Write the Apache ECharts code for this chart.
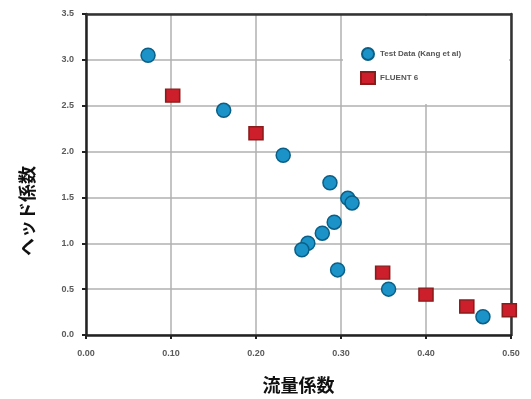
<!DOCTYPE html>
<html>
<head>
<meta charset="utf-8">
<script src="https://cdn.jsdelivr.net/npm/echarts@6/dist/echarts.min.js"></script>
<style>html,body{margin:0;padding:0;background:#fff;}#c{width:531px;height:399px;}</style>
</head>
<body>
<div id="c"></div>
<script>
var xTicks = [0.00, 0.10, 0.20, 0.30, 0.40, 0.50];
var yTicks = [0.0, 0.5, 1.0, 1.5, 2.0, 2.5, 3.0, 3.5];
var testName = 'Test Data (Kang et al)';
var fluentName = 'FLUENT 6';
var testX = [0.073, 0.162, 0.232, 0.287, 0.308, 0.313, 0.292, 0.278, 0.261, 0.254, 0.296, 0.356, 0.467];
var testY = [3.05, 2.45, 1.96, 1.66, 1.49, 1.44, 1.23, 1.11, 1.00, 0.93, 0.71, 0.50, 0.20];
var fluentX = [0.102, 0.200, 0.349, 0.400, 0.448, 0.498];
var fluentY = [2.61, 2.20, 0.68, 0.44, 0.31, 0.27];
var xName = '流量係数';
var yName = 'ヘッド係数';

function pairs(xs, ys) { return xs.map(function (x, i) { return [x, ys[i]]; }); }

var chart = echarts.init(document.getElementById('c'), null, {renderer: 'canvas'});
var lblStyle = {color: '#5a5a5a', fontSize: 9, fontWeight: 'bold', fontFamily: 'Liberation Sans, Arial, sans-serif'};
var xMin = xTicks[0], xMax = xTicks[xTicks.length - 1];
var yMin = yTicks[0], yMax = yTicks[yTicks.length - 1];
var frameAxis = {axisLine: {show: true, onZero: false, lineStyle: {color: '#333', width: 2.5}},
  axisTick: {show: false}, axisLabel: {show: false}, splitLine: {show: false}};
chart.setOption({
  animation: false,
  backgroundColor: '#fff',
  grid: {left: 86, right: 20, top: 14, bottom: 64},
  xAxis: [{
    type: 'value', min: xMin, max: xMax, interval: 0.1,
    name: xName, nameLocation: 'middle', nameGap: 41,
    nameTextStyle: {fontSize: 18, fontWeight: 'bold', color: '#111', fontFamily: 'Noto Sans CJK JP'},
    axisLine: {onZero: false, lineStyle: {color: '#222', width: 2.5}},
    axisTick: {show: true, length: 4, lineStyle: {color: '#222', width: 2}},
    axisLabel: Object.assign({margin: 14, formatter: function (v) { return v.toFixed(2); }}, lblStyle),
    splitLine: {lineStyle: {color: '#b0b0b0', width: 1.5}}
  }, Object.assign({type: 'value', position: 'top', min: xMin, max: xMax, interval: 0.1}, frameAxis)],
  yAxis: [{
    type: 'value', min: yMin, max: yMax, interval: 0.5,
    axisLine: {show: true, onZero: false, lineStyle: {color: '#222', width: 2.5}},
    axisTick: {show: true, length: 4, lineStyle: {color: '#222', width: 2}},
    axisLabel: Object.assign({margin: 12, formatter: function (v) { return v.toFixed(1); }}, lblStyle),
    splitLine: {lineStyle: {color: '#b0b0b0', width: 1.5}}
  }, Object.assign({type: 'value', position: 'right', min: yMin, max: yMax, interval: 0.5}, frameAxis)],
  graphic: [
    {type: 'rect', shape: {x: 343, y: 16, width: 166, height: 88}, style: {fill: '#fff'}, z: 5, silent: true},
    {type: 'text', x: 27, y: 211, rotation: Math.PI / 2, z: 10,
     style: {text: yName, fontSize: 18, fontWeight: 'bold', fill: '#111', fontFamily: 'Noto Sans CJK JP', textAlign: 'center', textVerticalAlign: 'middle'}}
  ],
  legend: {
    left: 355, top: 42, orient: 'vertical', itemGap: 10, itemWidth: 14, itemHeight: 12, z: 20,
    textStyle: {color: '#555', fontSize: 8, fontWeight: 'bold', fontFamily: 'Liberation Sans, Arial, sans-serif'},
    data: [{name: testName, icon: 'circle'}, {name: fluentName, icon: 'rect'}]
  },
  series: [
    {name: testName, type: 'scatter', symbol: 'circle', symbolSize: 14, z: 3,
     itemStyle: {color: '#1b93c8', borderColor: '#0b5f86', borderWidth: 1.5, opacity: 1},
     data: pairs(testX, testY)},
    {name: fluentName, type: 'scatter', symbol: 'rect', symbolSize: [14, 13], z: 4,
     itemStyle: {color: '#cc1f2b', borderColor: '#8a1c1c', borderWidth: 1.5, opacity: 1},
     data: pairs(fluentX, fluentY)}
  ]
});
</script>
</body>
</html>
